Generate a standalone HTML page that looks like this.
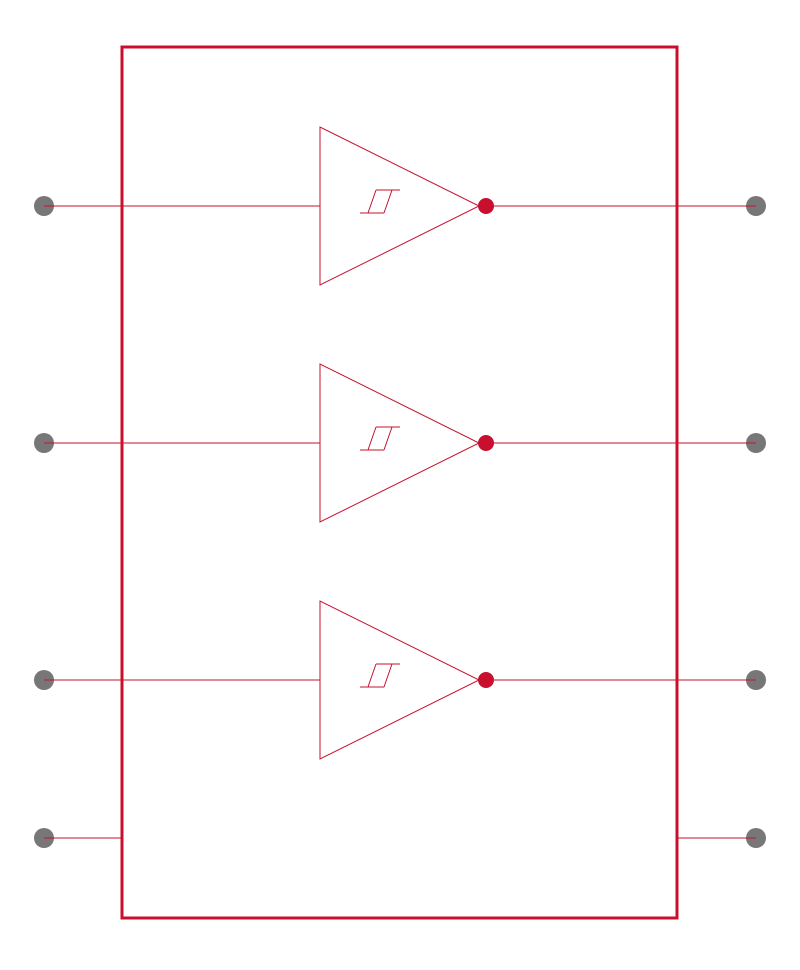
<!DOCTYPE html>
<html><head><style>body{margin:0;background:#fff}</style></head><body>
<svg width="800" height="965" viewBox="0 0 800 965" xmlns="http://www.w3.org/2000/svg">
<g stroke="#c8102e" stroke-width="1" fill="none">
<line x1="44" y1="206" x2="320" y2="206"/>
<line x1="486" y1="206" x2="756" y2="206"/>
<line x1="44" y1="443" x2="320" y2="443"/>
<line x1="486" y1="443" x2="756" y2="443"/>
<line x1="44" y1="680" x2="320" y2="680"/>
<line x1="486" y1="680" x2="756" y2="680"/>
<line x1="44" y1="838" x2="122" y2="838"/>
<line x1="677" y1="838" x2="756" y2="838"/>
<polygon points="320,127 320,285 479,206"/>
<polygon points="320,364 320,522 479,443"/>
<polygon points="320,601 320,759 479,680"/>
<g id="h"><path d="M360,213H384M376,190H400M368,213L376,190M384,213L392,190"/></g>
<use href="#h" y="237"/>
<use href="#h" y="474"/>
</g>
<rect x="122" y="47" width="555" height="871" fill="none" stroke="#c8102e" stroke-width="3"/>
<g fill="#c8102e"><circle cx="486" cy="206" r="8"/><circle cx="486" cy="443" r="8"/><circle cx="486" cy="680" r="8"/></g>
<g fill="#777">
<circle cx="44" cy="206" r="10"/><circle cx="44" cy="443" r="10"/><circle cx="44" cy="680" r="10"/><circle cx="44" cy="838" r="10"/>
<circle cx="756" cy="206" r="10"/><circle cx="756" cy="443" r="10"/><circle cx="756" cy="680" r="10"/><circle cx="756" cy="838" r="10"/>
</g>
<g stroke="#c8102e" stroke-width="1">
<line x1="44" y1="206" x2="56" y2="206"/><line x1="44" y1="443" x2="56" y2="443"/><line x1="44" y1="680" x2="56" y2="680"/><line x1="44" y1="838" x2="56" y2="838"/>
<line x1="744" y1="206" x2="756" y2="206"/><line x1="744" y1="443" x2="756" y2="443"/><line x1="744" y1="680" x2="756" y2="680"/><line x1="744" y1="838" x2="756" y2="838"/>
</g>
</svg>
</body></html>
